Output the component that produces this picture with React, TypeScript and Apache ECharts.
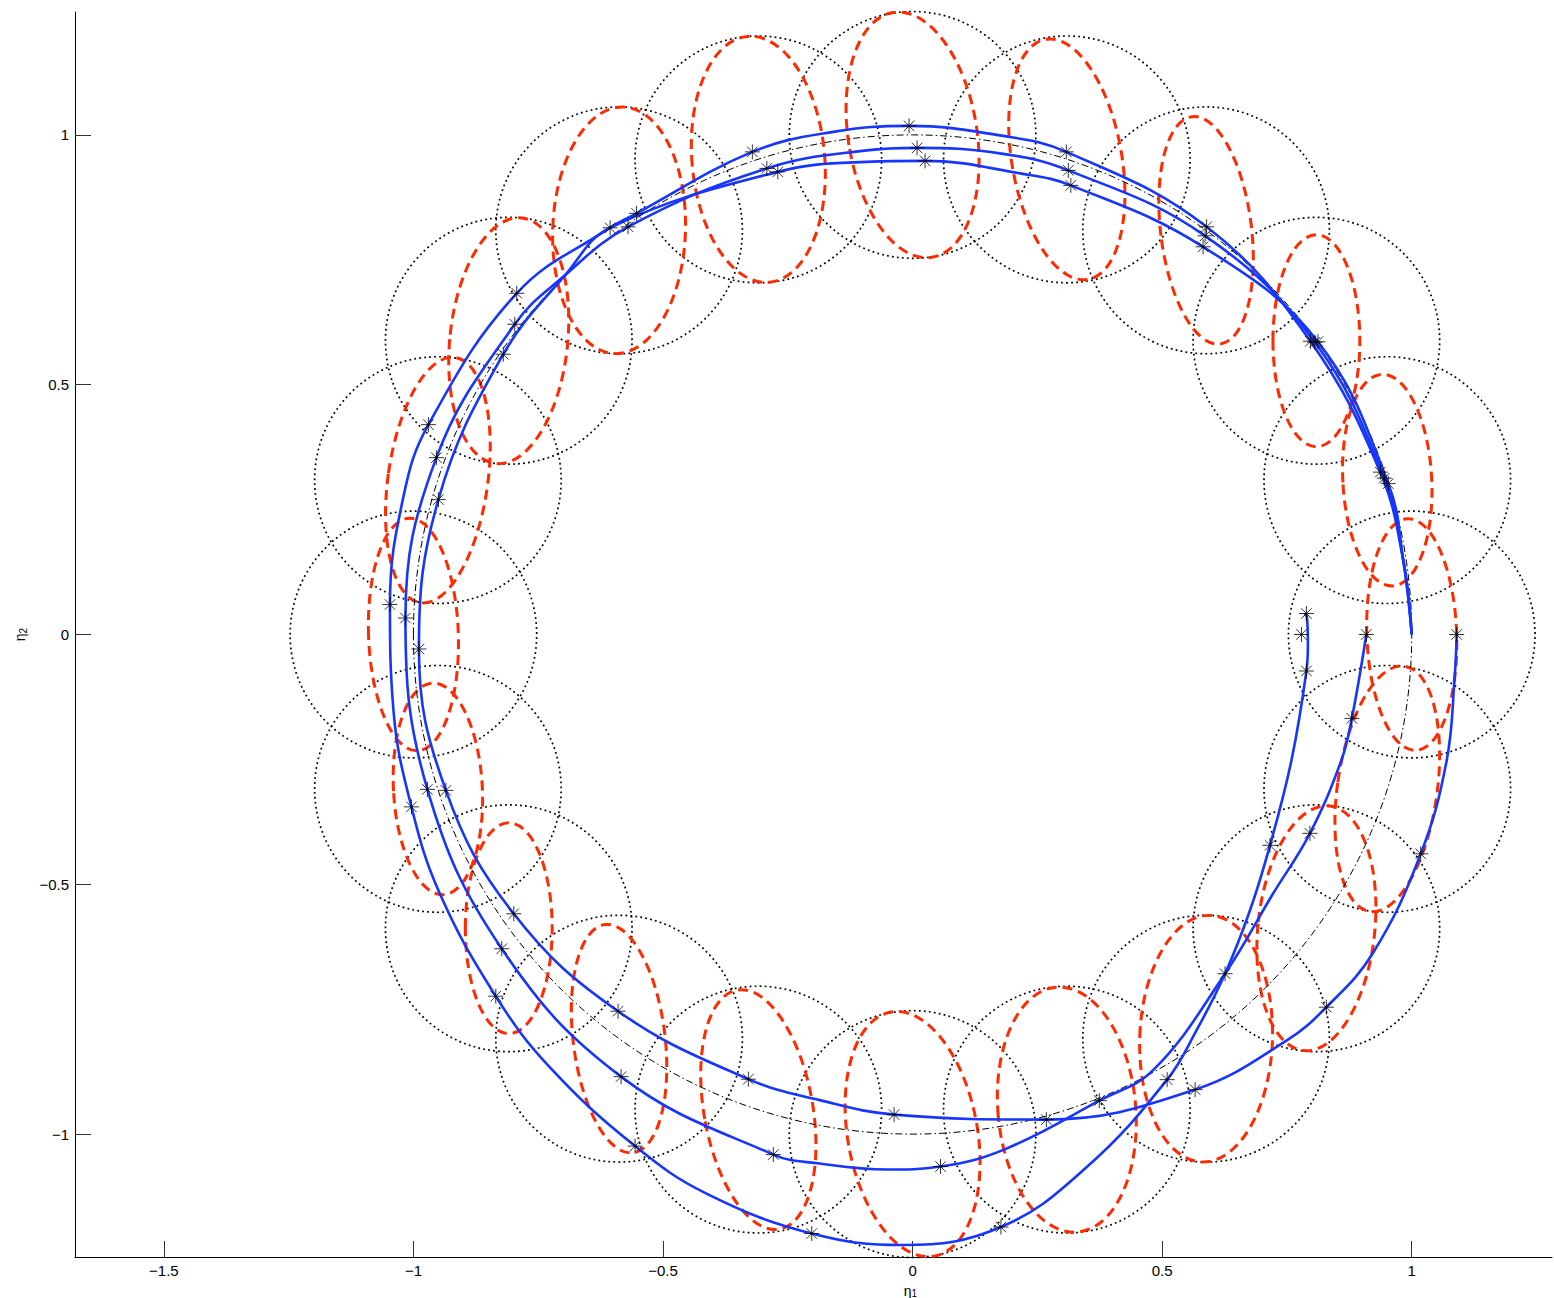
import React, { useEffect, useRef } from 'react';
import * as echarts from 'echarts';

// ---- axes ----
const X_MIN = -1.678;
const X_MAX = 1.281;
const Y_MIN = -1.246;
const Y_MAX = 1.246;
const xTicks = [-1.5, -1, -0.5, 0, 0.5, 1];
const yTicks = [-1, -0.5, 0, 0.5, 1];

// ---- nominal positions (centres of the dotted circles / red ellipses) ----
const centerX = [1.0, 0.951, 0.809, 0.588, 0.309, 0.0, -0.309, -0.588, -0.809, -0.951, -1.0, -0.951, -0.809, -0.588, -0.309, 0.0, 0.309, 0.588, 0.809, 0.951];
const centerY = [0.0, 0.309, 0.588, 0.809, 0.951, 1.0, 0.951, 0.809, 0.588, 0.309, 0.0, -0.309, -0.588, -0.809, -0.951, -1.0, -0.951, -0.809, -0.588, -0.309];
const circleRadius = 0.247;
const nominalRadius = 1.0;

// red dashed ellipses: half width, half height (data units), tilt (deg, ccw)
const ellipseHalfX = [0.090, 0.089, 0.087, 0.091, 0.110, 0.129, 0.133, 0.133, 0.118, 0.100, 0.090, 0.089, 0.087, 0.092, 0.109, 0.130, 0.138, 0.133, 0.117, 0.100];
const ellipseHalfY = [0.232, 0.212, 0.212, 0.229, 0.244, 0.248, 0.247, 0.247, 0.247, 0.248, 0.233, 0.212, 0.211, 0.230, 0.243, 0.248, 0.246, 0.247, 0.246, 0.248];
const ellipseTilt = [2, 3, 0, 7, 10, 9, 5, -2, -6, -8, 2, 3, 0, 7, 10, 10, 5, -2, -6, -8];

// ---- blue trajectories ----
const pathA = [
  [1.0, 0.0], [0.983, 0.149], [0.937, 0.325], [0.797, 0.587], [0.589, 0.816], [0.308, 0.966],
  [0.175, 0.999], [-0.007, 1.018], [-0.159, 1.006], [-0.321, 0.966], [-0.553, 0.843], [-0.613, 0.810],
  [-0.793, 0.683], [-0.970, 0.420], [-1.020, 0.276], [-1.047, 0.060], [-1.040, -0.152],
  [-1.004, -0.345], [-0.947, -0.519], [-0.835, -0.724], [-0.727, -0.866], [-0.556, -1.024], [-0.413, -1.119],
  [-0.202, -1.199], [-0.019, -1.222], [0.177, -1.186], [0.349, -1.066], [0.510, -0.891], [0.569, -0.792],
  [0.626, -0.679], [0.676, -0.552], [0.716, -0.422], [0.759, -0.252],
  [0.789, -0.073], [0.792, -0.018], [0.790, 0.035], [0.785, 0.042],
];
const pathB = [
  [1.0, 0.0], [0.983, 0.149], [0.945, 0.313], [0.806, 0.585], [0.586, 0.798], [0.312, 0.929],
  [0.175, 0.963], [0.009, 0.974], [-0.092, 0.969], [-0.292, 0.933], [-0.570, 0.816], [-0.700, 0.716],
  [-0.797, 0.621], [-0.954, 0.354], [-1.016, 0.033], [-0.972, -0.310], [-0.823, -0.629], [-0.584, -0.885],
  [-0.279, -1.041], [-0.186, -1.059], [-0.052, -1.071], [0.056, -1.065], [0.188, -1.029], [0.374, -0.933],
  [0.482, -0.872], [0.626, -0.679], [0.722, -0.519], [0.796, -0.398], [0.859, -0.252], [0.880, -0.168],
  [0.909, 0.0],
];
const pathC = [
  [1.0, 0.0], [0.983, 0.149], [0.953, 0.302], [0.812, 0.586], [0.582, 0.776], [0.317, 0.899],
  [0.215, 0.923], [0.025, 0.948], [-0.092, 0.946], [-0.270, 0.926], [-0.606, 0.814], [-0.693, 0.723],
  [-0.820, 0.561], [-0.950, 0.270], [-0.989, -0.029], [-0.935, -0.312], [-0.799, -0.559], [-0.590, -0.754],
  [-0.329, -0.890], [-0.186, -0.932], [-0.037, -0.961], [0.268, -0.971], [0.566, -0.911], [0.749, -0.813],
  [0.829, -0.746], [0.922, -0.638], [1.018, -0.439], [1.070, -0.252], [1.086, -0.085], [1.090, 0.0],
];

// ---- asterisk markers ----
const starsA = [
  [0.937, 0.325], [0.797, 0.587], [0.589, 0.816], [0.308, 0.966], [-0.007, 1.018], [-0.321, 0.966],
  [-0.553, 0.843], [-0.793, 0.683], [-0.970, 0.420], [-1.047, 0.060], [-1.004, -0.345], [-0.835, -0.724],
  [-0.556, -1.024], [-0.202, -1.199], [0.177, -1.186], [0.510, -0.891], [0.716, -0.422], [0.789, -0.073],
  [0.779, 0.0], [0.789, 0.042],
];
const starsB = [
  [0.945, 0.313], [0.806, 0.585], [0.586, 0.798], [0.312, 0.929], [0.009, 0.974], [-0.292, 0.933],
  [-0.570, 0.816], [-0.797, 0.621], [-0.954, 0.354], [-1.016, 0.033], [-0.972, -0.310], [-0.823, -0.629],
  [-0.584, -0.885], [-0.279, -1.041], [0.056, -1.065], [0.374, -0.933], [0.626, -0.679], [0.796, -0.398],
  [0.880, -0.168], [0.909, 0.0],
];
const starsC = [
  [0.953, 0.302], [0.812, 0.586], [0.582, 0.776], [0.317, 0.899], [0.025, 0.948], [-0.270, 0.926],
  [-0.606, 0.814], [-0.820, 0.561], [-0.950, 0.270], [-0.989, -0.029], [-0.935, -0.312], [-0.799, -0.559],
  [-0.590, -0.754], [-0.329, -0.890], [-0.037, -0.961], [0.268, -0.971], [0.566, -0.911], [0.829, -0.746],
  [1.018, -0.439], [1.090, 0.0],
];

const FONT = 'Liberation Sans, Arial, Helvetica, sans-serif';
const BLUE = '#1636ff';
const RED = '#ff2a00';
const STAR_PATH = 'path://M6,0L6,12M0,6L12,6M1.8,1.8L10.2,10.2M1.8,10.2L10.2,1.8';

const fmt = (v: number) => (v < 0 ? '\u2212' : '') + String(Math.abs(v));

export default function App() {
  const ref = useRef<HTMLDivElement>(null);
  useEffect(() => {
    if (!ref.current) return;
    const chart = echarts.init(ref.current, null, { renderer: 'svg' });

    const circleData = centerX.map((x, i) => [x, centerY[i], circleRadius]);
    const ellipseData = centerX.map((x, i) => [x, centerY[i], ellipseHalfX[i], ellipseHalfY[i], ellipseTilt[i]]);

    const nameRich = {
      a: { fontSize: 14, fontFamily: FONT, color: '#000', lineHeight: 16 },
      b: { fontSize: 10, fontFamily: FONT, color: '#000', padding: [6, 0, 0, 0], lineHeight: 12 },
    };

    const lineSeries = (data: number[][], z: number) => ({
      type: 'line',
      data,
      smooth: 0.4,
      showSymbol: false,
      symbol: 'none',
      silent: true,
      z,
      lineStyle: { color: BLUE, width: 2.6 },
    });
    const starSeries = (data: number[][]) => ({
      type: 'scatter',
      data,
      symbol: STAR_PATH,
      symbolSize: 15,
      silent: true,
      z: 10,
      itemStyle: { color: 'rgba(0,0,0,0)', borderColor: '#000', borderWidth: 1 },
    });

    chart.setOption({
      animation: false,
      backgroundColor: '#fff',
      grid: { left: 75, top: 12, width: 1477, height: 1245, outerBoundsMode: 'none', containLabel: false },
      xAxis: {
        type: 'value',
        min: X_MIN,
        max: X_MAX,
        axisLine: { show: true, onZero: false, lineStyle: { color: '#000', width: 1 } },
        axisTick: { show: true, inside: true, length: 16, customValues: xTicks, lineStyle: { color: '#333' } },
        axisLabel: { customValues: xTicks, formatter: fmt, fontSize: 15, color: '#000', fontFamily: FONT, margin: 6 },
        splitLine: { show: false },
        name: '{a|\u03b7}{b|1}',
        nameLocation: 'middle',
        nameGap: 22,
        nameTextStyle: { rich: nameRich, padding: [0, 0, 0, 194] },
      },
      yAxis: {
        type: 'value',
        min: Y_MIN,
        max: Y_MAX,
        axisLine: { show: true, onZero: false, lineStyle: { color: '#000', width: 1 } },
        axisTick: { show: true, inside: true, length: 16, customValues: yTicks, lineStyle: { color: '#333' } },
        axisLabel: { customValues: yTicks, formatter: fmt, fontSize: 15, color: '#000', fontFamily: FONT, margin: 6 },
        splitLine: { show: false },
        name: '{a|\u03b7}{b|2}',
        nameLocation: 'middle',
        nameGap: 44,
        nameRotate: 90,
        nameTextStyle: { rich: nameRich },
      },
      series: [
        {
          type: 'custom',
          data: circleData,
          silent: true,
          z: 1,
          renderItem: (params: any, api: any) => {
            const c = api.coord([api.value(0), api.value(1)]);
            const s = api.size([api.value(2), api.value(2)]);
            return {
              type: 'ellipse',
              shape: { cx: c[0], cy: c[1], rx: s[0], ry: s[1] },
              style: { fill: 'none', stroke: '#000', lineWidth: 1.7, lineDash: [1.8, 3.2] },
            };
          },
        },
        {
          type: 'custom',
          data: ellipseData,
          silent: true,
          z: 2,
          renderItem: (params: any, api: any) => {
            const c = api.coord([api.value(0), api.value(1)]);
            const s = api.size([api.value(2), api.value(3)]);
            return {
              type: 'ellipse',
              x: c[0],
              y: c[1],
              rotation: (api.value(4) * Math.PI) / 180,
              shape: { cx: 0, cy: 0, rx: s[0], ry: s[1] },
              style: { fill: 'none', stroke: RED, lineWidth: 3, lineDash: [10, 6] },
            };
          },
        },
        {
          type: 'custom',
          data: [[0, 0, nominalRadius]],
          silent: true,
          z: 3,
          renderItem: (params: any, api: any) => {
            const c = api.coord([api.value(0), api.value(1)]);
            const s = api.size([api.value(2), api.value(2)]);
            return {
              type: 'ellipse',
              shape: { cx: c[0], cy: c[1], rx: s[0], ry: s[1] },
              style: { fill: 'none', stroke: '#000', lineWidth: 1, lineDash: [7, 3, 1.5, 3] },
            };
          },
        },
        lineSeries(pathA, 4),
        lineSeries(pathB, 4),
        lineSeries(pathC, 4),
        starSeries(starsA),
        starSeries(starsB),
        starSeries(starsC),
      ],
    });
    return () => chart.dispose();
  }, []);
  return (
    <div
      ref={ref}
      style={{ position: 'absolute', left: 0, top: 0, width: 1554, height: 1298, background: '#fff' }}
    />
  );
}
